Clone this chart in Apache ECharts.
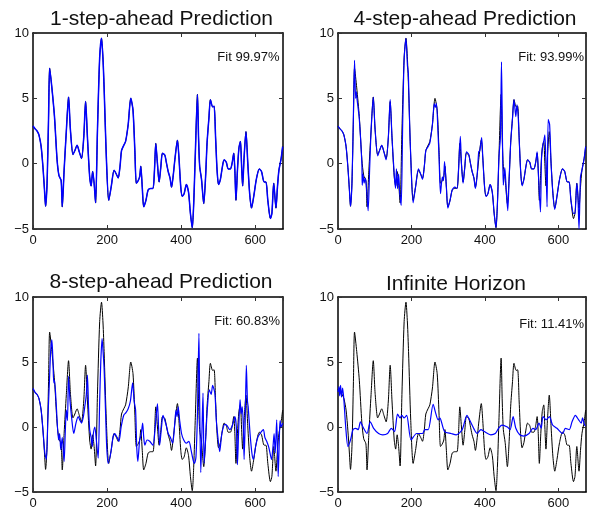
<!DOCTYPE html>
<html>
<head>
<meta charset="utf-8">
<script src="https://cdn.jsdelivr.net/npm/echarts@6/dist/echarts.min.js"></script>
<style>
html,body{margin:0;padding:0;background:#fff;}
#chart{width:597px;height:514px;}
</style>
</head>
<body>
<div id="chart"></div>
<script>
// ---- data ----
var titles = ['1-step-ahead Prediction', '4-step-ahead Prediction', '8-step-ahead Prediction', 'Infinite Horizon'];
var fitLabels = ['Fit 99.97%', 'Fit: 93.99%', 'Fit: 60.83%', 'Fit: 11.41%'];
var xTicks = [0, 200, 400, 600];
var yTicks = [-5, 0, 5, 10];

var measured = [[0,2.88],[6,2.65],[11,2.5],[16,2.2],[22,1.3],[27,-0.3],[31,-2.0],[34,-3.26],[38,-1.5],[42,3.5],[45,7.3],[51,5.8],[58,3.6],[65,0.3],[70,-0.9],[76,-1.3],[79,-3.3],[84,-0.5],[90,2.5],[96,5.1],[101,2.6],[108,0.7],[113,1.0],[119,1.4],[125,0.9],[131,0.4],[137,2.0],[142,4.75],[147,2.0],[153,-1.0],[157,-1.7],[161,-0.6],[165,-1.5],[169,-3.0],[174,2.5],[180,8.1],[185,9.6],[189,8.0],[192,5.8],[198,0.5],[204.5,-2.8],[211,-1.8],[219,-0.5],[225,-0.8],[230,-1.1],[235,-0.2],[239,1.0],[245,1.4],[250,1.7],[257,3.0],[264,5.0],[270,4.1],[275,1.0],[279,-1.5],[284,-1.3],[288,-1.0],[291,-0.2],[295,-1.8],[299,-3.3],[305,-2.8],[311,-2.0],[318,-1.9],[324,-1.9],[328,-0.5],[331.5,1.55],[336,0.0],[340.5,-1.4],[345,-0.3],[349.5,0.8],[356,0.65],[360,0.1],[365,-0.6],[370,-1.1],[374,-1.8],[379,-0.8],[383,0.3],[390,1.8],[394,0.5],[399,-1.8],[403,-2.5],[408,-2.3],[414,-1.6],[420,-2.2],[425,-3.8],[430,-4.9],[434,-3.0],[438,0.5],[444,5.3],[447,2.0],[450,-0.2],[455,-1.2],[461,-3.05],[466,-1.0],[470,1.6],[475,3.5],[479,4.9],[485,4.35],[489,4.4],[493,2.0],[497,-0.5],[501,-1.6],[506,-1.2],[511,-0.3],[516,0.3],[522,0.1],[527,-0.4],[533,-0.4],[538,0.1],[542,0.8],[545,-0.5],[548,-2.8],[552,-0.5],[556,1.2],[560,1.7],[563,0.0],[566,-1.7],[570,0.5],[575,2.45],[580,0.0],[585,-2.3],[590,-3.4],[596,-2.5],[603,-1.2],[611,-0.4],[617,-0.6],[624,-1.4],[629,-1.4],[634,-2.8],[641,-4.2],[645,-3.8],[650,-1.5],[656,-3.4],[660,-1.8],[664,-0.5],[670,0.4],[674,1.3]];

var pred1 = [[0,2.88],[6,2.65],[11,2.5],[16,2.2],[22,1.3],[27,-0.3],[31,-2.0],[34,-3.26],[38,-1.5],[42,3.5],[45,7.3],[51,5.8],[58,3.6],[65,0.3],[70,-0.9],[76,-1.3],[79,-3.3],[84,-0.5],[90,2.5],[96,5.1],[101,2.6],[108,0.7],[113,1.0],[119,1.4],[125,0.9],[131,0.4],[137,2.0],[142,4.75],[147,2.0],[153,-1.0],[157,-1.7],[161,-0.6],[165,-1.5],[169,-3.0],[174,2.5],[180,8.1],[185,9.6],[189,8.0],[192,5.8],[198,0.5],[204.5,-2.8],[211,-1.8],[219,-0.5],[225,-0.8],[230,-1.1],[235,-0.2],[239,1.0],[245,1.4],[250,1.7],[257,3.0],[264,5.0],[270,4.1],[275,1.0],[279,-1.5],[284,-1.3],[288,-1.0],[291,-0.2],[295,-1.8],[299,-3.3],[305,-2.8],[311,-2.0],[318,-1.9],[324,-1.9],[328,-0.5],[331.5,1.55],[336,0.0],[340.5,-1.4],[345,-0.3],[349.5,0.8],[356,0.65],[360,0.1],[365,-0.6],[370,-1.1],[374,-1.8],[379,-0.8],[383,0.3],[390,1.8],[394,0.5],[399,-1.8],[403,-2.5],[408,-2.3],[414,-1.6],[420,-2.2],[425,-3.8],[430,-4.9],[434,-3.0],[438,0.5],[444,5.3],[447,2.0],[450,-0.2],[455,-1.2],[461,-3.05],[466,-1.0],[470,1.6],[475,3.5],[479,4.9],[485,4.35],[489,4.4],[493,2.0],[497,-0.5],[501,-1.6],[506,-1.2],[511,-0.3],[516,0.3],[522,0.1],[527,-0.4],[533,-0.4],[538,0.1],[542,0.8],[545,-0.5],[548,-2.8],[552,-0.5],[556,1.2],[560,1.7],[563,0.0],[566,-1.7],[570,0.5],[575,2.45],[580,0.0],[585,-2.3],[590,-3.4],[596,-2.5],[603,-1.2],[611,-0.4],[617,-0.6],[624,-1.4],[629,-1.4],[634,-2.8],[641,-4.2],[645,-3.8],[650,-1.5],[656,-3.4],[660,-1.8],[664,-0.5],[670,0.4],[674,1.3]];

var pred4 = [[0,2.88],[6,2.65],[11,2.5],[16,2.2],[22,1.3],[27,-0.3],[31,-2.0],[34,-3.26],[38,-1.5],[42,3.8],[45,7.9],[48,5.0],[50,5.5],[52,4.9],[58,3.4],[65,0.0],[66,-1.65],[68,-0.8],[71,-1.5],[74,-1.1],[77,-1.6],[82,-3.6],[86,-0.5],[90,2.5],[96,5.1],[101,2.6],[108,0.6],[113,1.0],[119,1.4],[125,0.9],[131,0.3],[137,2.0],[142,4.9],[147,2.0],[153,-0.8],[156.5,-1.9],[159,-0.4],[162,-1.9],[165,-0.8],[168,-2.2],[172,-3.2],[176,3.0],[180,8.0],[185,9.6],[189,7.5],[191.5,6.9],[195,3.0],[198,0.5],[204.5,-3.0],[211,-1.8],[219,-0.4],[225,-0.8],[230,-1.2],[235,-0.2],[239,1.0],[245,1.3],[250,1.6],[257,3.0],[262,4.6],[265,4.3],[268,4.6],[272,2.5],[275,0.5],[279,-2.3],[284,-1.0],[287,-1.3],[290,0.15],[295,-1.8],[299,-3.4],[305,-2.8],[311,-2.0],[318,-1.8],[324,-1.9],[328,-0.5],[333,2.1],[336,0.0],[340.5,-1.5],[345,-0.3],[349.5,0.9],[356,0.7],[360,0.1],[365,-0.6],[370,-1.1],[374,-1.9],[379,-0.8],[383,0.9],[386,1.0],[391,2.0],[394,0.5],[399,-1.8],[403,-2.5],[408,-2.3],[414,-1.6],[420,-2.2],[425,-3.8],[430,-4.9],[434,-3.0],[438,0.5],[442,2.0],[445,7.8],[448,1.0],[450,-1.65],[454,-0.3],[458,-2.0],[462,-3.6],[466,-1.0],[470,1.6],[475,3.5],[479,4.9],[484,3.6],[487,4.5],[490,3.8],[493,2.0],[497,-0.5],[501,-1.7],[506,-1.2],[511,-0.3],[516,0.3],[522,0.1],[527,-0.4],[533,-0.4],[538,0.1],[542,0.9],[545,-0.5],[551,-3.7],[554,0.5],[558,1.5],[560,1.7],[563,2.2],[566,0.0],[569,-3.3],[572,3.4],[576,3.0],[580,0.0],[585,-2.3],[590,-3.5],[596,-2.5],[603,-1.2],[611,-0.4],[617,-0.6],[624,-1.4],[629,-1.4],[634,-2.8],[641,-3.8],[645,-3.8],[650,-1.5],[653,-2.5],[656,-5.0],[660,-1.0],[664,-0.5],[670,0.4],[674,1.3]];

var pred8 = [[0,2.97],[6,2.65],[11,2.5],[16,2.2],[22,1.3],[27,-0.3],[32,-2.0],[36,-2.5],[40,0.5],[45,4.0],[48,6.0],[51,6.7],[54,5.0],[56,3.4],[58,3.6],[63,1.6],[69,-1.0],[72,-0.5],[75,-1.75],[79,-0.8],[84,-2.65],[87,-0.5],[90,1.3],[93,0.5],[96,3.9],[100,2.0],[104,0.8],[110,-0.5],[116,0.3],[122,0.8],[127,0.5],[131,0.3],[136,0.8],[140,1.6],[144,2.5],[147,4.0],[150,1.5],[153,-0.2],[157,-0.8],[160,-1.5],[163,-0.5],[167,0.0],[171,-1.0],[176,-2.4],[180,2.0],[183,5.0],[186.5,6.8],[189,5.9],[192,4.5],[196,1.05],[199,-1.5],[203,-2.8],[210,-2.0],[216,-0.8],[221,-0.5],[227,-0.8],[232,-1.1],[238,0.0],[245,0.9],[251,1.1],[257,1.4],[263,2.0],[269,3.4],[273,2.0],[277,1.3],[280,-1.5],[283,-2.65],[288,-1.0],[292,-0.6],[296,0.3],[299,-0.8],[302,-1.4],[308,-1.0],[315,-1.1],[324,-1.4],[330,0.0],[336,1.8],[339,0.0],[342,-1.4],[347,0.0],[351,0.9],[356,0.5],[361,0.0],[365,-0.5],[371,-0.8],[377,-1.25],[382,0.0],[386,1.3],[389,0.8],[392,1.55],[396,0.5],[401,-0.5],[407,-1.0],[414,-1.25],[421,-1.1],[427,-1.8],[432,-2.5],[436,-2.8],[440,-2.3],[444,1.0],[448,7.2],[450,2.0],[453,-3.5],[456,-0.5],[459,2.6],[462,-2.8],[466,-1.0],[471,1.5],[476,2.85],[481,2.5],[485,3.2],[491,2.6],[495,0.5],[500,-1.0],[504,-1.9],[510,-0.5],[518,0.2],[524,0.1],[531,-0.2],[538,0.1],[545,0.8],[549,0.0],[552,-2.9],[555,-0.5],[559,2.1],[562,1.0],[565,1.55],[568,0.0],[570,-2.5],[573,0.5],[576,4.75],[579,2.0],[581,1.55],[586,-0.5],[591,-2.0],[595,-2.5],[601,-1.5],[607,-0.8],[613,-0.5],[622,-0.2],[626,-0.8],[631,-1.1],[637,-1.6],[644,-2.5],[648,-1.5],[651,-0.5],[654,-2.0],[658,0.55],[662,-3.8],[665,-1.0],[667,0.5],[670,0.0],[674,0.3]];

var predInf = [[0,2.7],[2.7,3.1],[4.5,2.4],[7,3.2],[9.5,2.3],[12.6,3.0],[16,2.1],[21,0.0],[27,-1.5],[34,-1.0],[41,-0.2],[48,-0.1],[55,-0.2],[61,0.4],[68,0.0],[79,-0.5],[88,0.4],[97,-0.1],[110.6,-0.5],[122,-0.6],[135,-0.5],[145,-0.1],[154,-0.35],[162,1.0],[169,0.7],[173.5,0.9],[180,0.7],[187,0.9],[199,-1.0],[214,-0.5],[230,-0.5],[236.5,-0.2],[245.5,-0.2],[259,1.75],[266,1.05],[272.5,0.55],[277,0.7],[290,-0.35],[308,-0.5],[322,-0.6],[338,-0.2],[351,0.9],[358,0.55],[371,-0.2],[378.6,-0.5],[389,-0.2],[398,-0.35],[416,-0.6],[428,-0.5],[437,-0.1],[446,0.15],[461,0.0],[468.5,-0.2],[476.6,0.8],[484,-0.1],[494.6,-0.6],[506,-0.7],[520,-0.5],[530.6,-0.1],[538,-0.2],[547,0.3],[553,-0.1],[558,0.8],[566.5,0.55],[575.5,0.8],[584,0.15],[596,-0.1],[611.5,-0.5],[618.7,-0.1],[629.5,-0.2],[637,0.4],[646,0.9],[655,0.55],[662,0.3],[665.5,0.7],[671,0.15],[674,0.1]];

var predictions = [pred1, pred4, pred8, predInf];

// ---- layout ----
var grids = [
  {left: 33, top: 33, width: 250, height: 196},
  {left: 338, top: 33, width: 248, height: 196},
  {left: 33, top: 297, width: 250, height: 195},
  {left: 338, top: 297, width: 248, height: 195}
];
var titlePos = [[161.5, 19], [465, 19], [161, 282], [456, 284]];
var fitPos = [[279.5, 57.5], [584, 57.5], [280, 321], [584, 324]];

var FONT = '"Liberation Sans", Arial, Helvetica, sans-serif';
var xAxes = [], yAxes = [], series = [], graphics = [];
function fmt(v){ return String(v).replace('-', '\u2212'); }

for (var i = 0; i < 4; i++) {
  var axLine = {show: true, onZero: false, lineStyle: {color: '#000', width: 1.5}};
  var tick = {show: true, inside: true, length: 4, lineStyle: {color: '#333', width: 1}};
  xAxes.push({type: 'value', gridIndex: i, position: 'bottom', min: 0, max: 675, interval: 200,
    axisLine: axLine, axisTick: tick, splitLine: {show: false},
    axisLabel: {show: true, color: '#111', fontSize: 13, fontFamily: FONT, margin: 5, formatter: fmt,
      showMaxLabel: false}});
  xAxes.push({type: 'value', gridIndex: i, position: 'top', min: 0, max: 675, interval: 200,
    axisLine: axLine, axisTick: tick, splitLine: {show: false}, axisLabel: {show: false}});
  yAxes.push({type: 'value', gridIndex: i, position: 'left', min: -5, max: 10, interval: 5,
    axisLine: axLine, axisTick: tick, splitLine: {show: false},
    axisLabel: {show: true, color: '#111', fontSize: 13, fontFamily: FONT, margin: 4, formatter: fmt}});
  yAxes.push({type: 'value', gridIndex: i, position: 'right', min: -5, max: 10, interval: 5,
    axisLine: axLine, axisTick: tick, splitLine: {show: false}, axisLabel: {show: false}});

  series.push({type: 'line', xAxisIndex: 2*i, yAxisIndex: 2*i, data: measured, showSymbol: false,
    smooth: 0.25, lineStyle: {color: '#000', width: 1}, z: 2, animation: false});
  series.push({type: 'line', xAxisIndex: 2*i, yAxisIndex: 2*i, data: predictions[i], showSymbol: false,
    smooth: 0.25, lineStyle: {color: '#0000ff', width: i === 0 ? 1.5 : 1.2}, z: 3, animation: false});

  graphics.push({type: 'text', x: titlePos[i][0], y: titlePos[i][1],
    style: {text: titles[i], font: '21px ' + FONT, fill: '#111', textAlign: 'center', textVerticalAlign: 'middle'}});
  graphics.push({type: 'text', x: fitPos[i][0], y: fitPos[i][1],
    style: {text: fitLabels[i], font: '13px ' + FONT, fill: '#111', textAlign: 'right', textVerticalAlign: 'middle'}});
}

var chart = echarts.init(document.getElementById('chart'), null, {renderer: 'canvas'});
chart.setOption({
  backgroundColor: '#fff',
  animation: false,
  grid: grids,
  xAxis: xAxes,
  yAxis: yAxes,
  series: series,
  graphic: graphics
});
</script>
</body>
</html>
